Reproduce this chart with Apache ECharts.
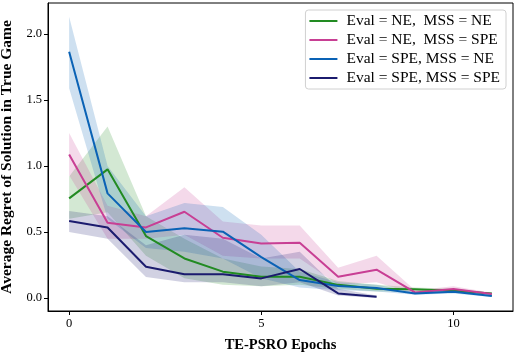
<!DOCTYPE html>
<html>
<head>
<meta charset="utf-8">
<script src="https://cdn.jsdelivr.net/npm/echarts@6/dist/echarts.min.js"></script>
<style>
html, body { margin: 0; padding: 0; background: #fff; }
#main { width: 518px; height: 355px; }
</style>
</head>
<body>
<div id="main"></div>
<script>
// epochs on the x axis
var epochs = [0, 1, 2, 3, 4, 5, 6, 7, 8, 9, 10, 11];

// Eval = NE, MSS = NE
var neNeMean = [0.755, 0.975, 0.47, 0.30, 0.20, 0.162, 0.162, 0.10, 0.07, 0.066, 0.055, 0.035];
var neNeLow  = [0.60, 0.65, 0.32, 0.15, 0.10, 0.09, 0.10, 0.07, 0.05, 0.05, 0.04, 0.03];
var neNeHigh = [0.92, 1.30, 0.62, 0.45, 0.30, 0.24, 0.22, 0.13, 0.10, 0.08, 0.07, 0.04];

// Eval = NE, MSS = SPE
var neSpeMean = [1.088, 0.57, 0.535, 0.654, 0.457, 0.414, 0.419, 0.162, 0.215, 0.043, 0.068, 0.03];
var neSpeLow  = [0.93, 0.45, 0.45, 0.48, 0.32, 0.30, 0.30, 0.10, 0.12, 0.03, 0.05, 0.02];
var neSpeHigh = [1.25, 0.70, 0.62, 0.84, 0.58, 0.55, 0.55, 0.23, 0.32, 0.06, 0.09, 0.04];

// Eval = SPE, MSS = NE
var speNeMean = [1.866, 0.793, 0.50, 0.528, 0.503, 0.31, 0.136, 0.091, 0.076, 0.035, 0.048, 0.015];
var speNeLow  = [1.59, 0.60, 0.38, 0.35, 0.30, 0.15, 0.08, 0.06, 0.05, 0.025, 0.035, 0.008];
var speNeHigh = [2.13, 1.00, 0.62, 0.72, 0.69, 0.48, 0.20, 0.12, 0.10, 0.045, 0.06, 0.022];

// Eval = SPE, MSS = SPE (stops at epoch 8)
var speSpeMean = [0.583, 0.535, 0.237, 0.18, 0.18, 0.149, 0.22, 0.035, 0.01];
var speSpeLow  = [0.50, 0.45, 0.16, 0.12, 0.12, 0.09, 0.12, 0.02, 0.0];
var speSpeHigh = [0.66, 0.62, 0.40, 0.48, 0.45, 0.30, 0.35, 0.07, 0.02];

var yTicks = [0, 0.5, 1.0, 1.5, 2.0];
var xTicks = [0, 5, 10];

var names = ['Eval = NE,  MSS = NE', 'Eval = NE,  MSS = SPE', 'Eval = SPE, MSS = NE', 'Eval = SPE, MSS = SPE'];
var colors = ['#228b22', '#c83f94', '#0a62b5', '#1b1b6e'];
var fills = ['rgba(34,139,34,0.2)', 'rgba(200,63,148,0.2)', 'rgba(10,98,181,0.2)', 'rgba(27,27,110,0.2)'];
var means = [neNeMean, neSpeMean, speNeMean, speSpeMean];
var lows = [neNeLow, neSpeLow, speNeLow, speSpeLow];
var highs = [neNeHigh, neSpeHigh, speNeHigh, speSpeHigh];

var font = 'Liberation Serif';
var series = [];

// shaded band between low and high, drawn as one polygon through the axes
function bandSeries(low, high, fill) {
    return {
        type: 'custom', silent: true, z: 1, clip: true,
        data: [[0, 0]],
        renderItem: function (params, api) {
            var pts = [];
            for (var k = 0; k < low.length; k++) pts.push(api.coord([epochs[k], high[k]]));
            for (var k2 = low.length - 1; k2 >= 0; k2--) pts.push(api.coord([epochs[k2], low[k2]]));
            return { type: 'polygon', shape: { points: pts }, style: { fill: fill } };
        }
    };
}

for (var i = 0; i < 4; i++) series.push(bandSeries(lows[i], highs[i], fills[i]));

// mean lines
for (var j = 0; j < 4; j++) {
    series.push({
        name: names[j], type: 'line', symbol: 'none', z: 5,
        lineStyle: { color: colors[j], width: 2 },
        itemStyle: { color: colors[j] },
        data: means[j].map(function (v, k) { return [epochs[k], v]; })
    });
}

var myChart = echarts.init(document.getElementById('main'));
myChart.setOption({
    animation: false,
    textStyle: { fontFamily: font },
    grid: {
        left: 48, right: 5, top: 3, bottom: 44, outerBoundsMode: 'none', containLabel: false,
        show: true, borderColor: '#000', borderWidth: 1
    },
    legend: {
        data: names, orient: 'vertical', right: 12, top: 10,
        icon: 'rect', itemWidth: 28, itemHeight: 2, itemGap: 3,
        padding: [3, 6, 3, 4],
        borderColor: '#d0d0d0', borderWidth: 1, borderRadius: 3, backgroundColor: '#fff',
        textStyle: { fontFamily: font, fontSize: 15.5, color: '#000', padding: [0, 0, 0, 4] }
    },
    xAxis: {
        type: 'value', min: -0.55, max: 11.55,
        name: 'TE-PSRO Epochs', nameLocation: 'middle', nameGap: 27,
        nameTextStyle: { fontFamily: font, fontWeight: 'bold', fontSize: 14.5, color: '#000' },
        splitLine: { show: false },
        axisLine: { show: true, onZero: false, lineStyle: { color: '#000' } },
        axisTick: { show: true, length: 4, customValues: xTicks, lineStyle: { color: '#000' } },
        axisLabel: { customValues: xTicks, fontSize: 12.5, color: '#000', margin: 6, fontFamily: font }
    },
    yAxis: {
        type: 'value', min: -0.098, max: 2.235,
        name: 'Average Regret of Solution in True Game', nameLocation: 'middle', nameGap: 33,
        nameTextStyle: { fontFamily: font, fontWeight: 'bold', fontSize: 15.5, color: '#000' },
        splitLine: { show: false },
        axisLine: { show: true, onZero: false, lineStyle: { color: '#000' } },
        axisTick: { show: true, length: 4, customValues: yTicks, lineStyle: { color: '#000' } },
        axisLabel: {
            customValues: yTicks, fontSize: 12.5, color: '#000', margin: 6, fontFamily: font,
            formatter: function (v) { return v.toFixed(1); }
        }
    },
    series: series
});
</script>
</body>
</html>
